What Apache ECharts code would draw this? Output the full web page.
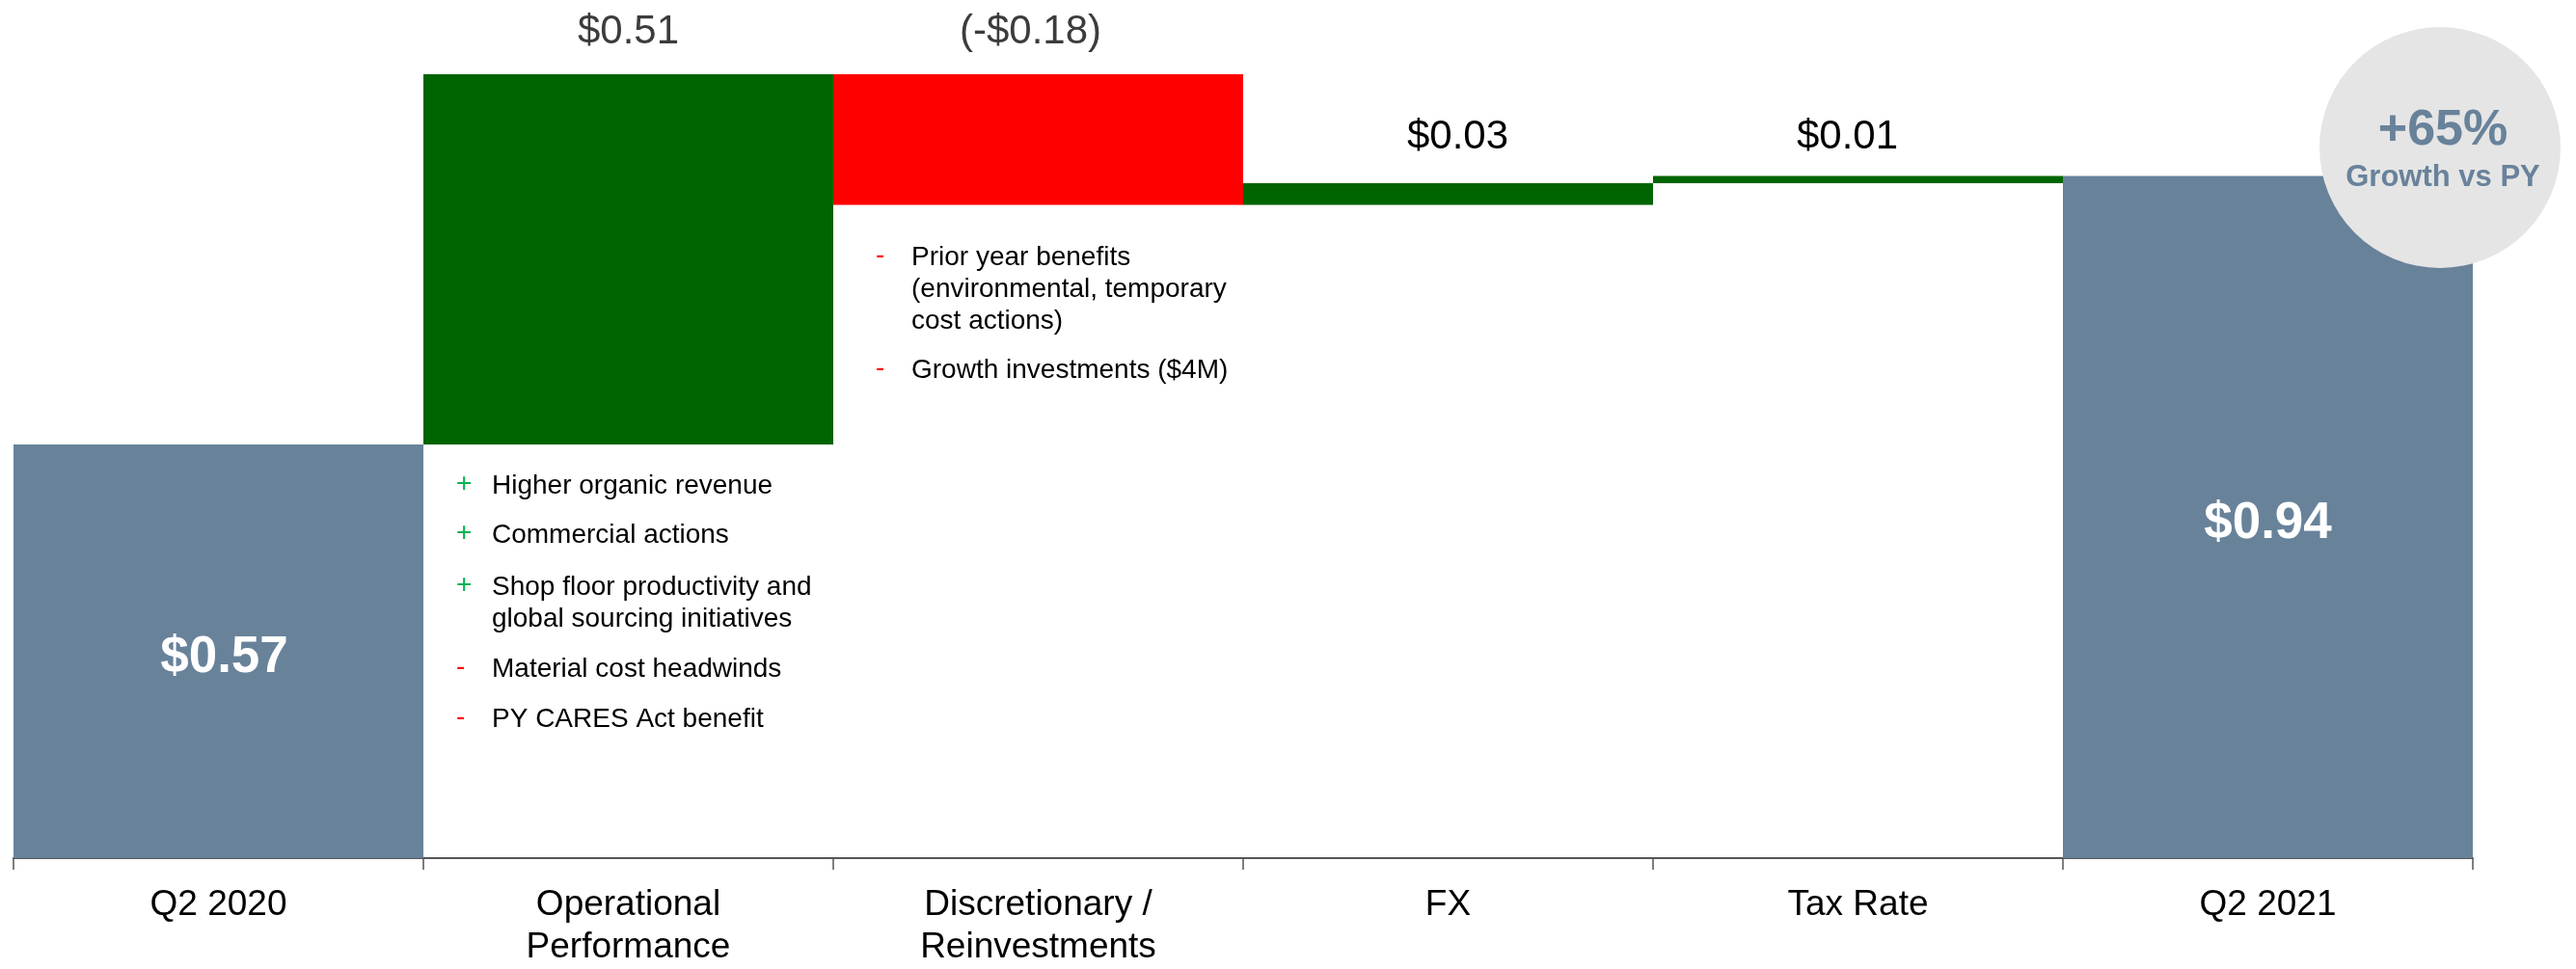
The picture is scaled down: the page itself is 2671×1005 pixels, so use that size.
<!DOCTYPE html>
<html>
<head>
<meta charset="utf-8">
<script src="https://cdn.jsdelivr.net/npm/echarts@6/dist/echarts.min.js"></script>
<style>
html,body{margin:0;padding:0;background:#fff;}
#c{width:2671px;height:1005px;}
</style>
</head>
<body>
<div id="c"></div>
<script>
// ---- data ----
var categories = ['Q2 2020', 'Operational\nPerformance', 'Discretionary /\nReinvestments', 'FX', 'Tax Rate', 'Q2 2021'];
var startValue = 0.57;
var deltas = [0.51, -0.18, 0.03, 0.01];
var endValue = 0.94;
var growthText = '+65%';
var growthSub = 'Growth vs PY';
var opNotes = [
  ['+', 'Higher organic revenue'],
  ['+', 'Commercial actions'],
  ['+', 'Shop floor productivity and\nglobal sourcing initiatives'],
  ['-', 'Material cost headwinds'],
  ['-', 'PY CARES Act benefit']
];
var discNotes = [
  ['-', 'Prior year benefits\n(environmental, temporary\ncost actions)'],
  ['-', 'Growth investments ($4M)']
];

// ---- derived waterfall ----
var baseData = [0];
var valueData = [startValue];
var kinds = ['total'];
var running = startValue;
deltas.forEach(function (d) {
  if (d >= 0) { baseData.push(running); valueData.push(d); kinds.push('up'); }
  else { baseData.push(running + d); valueData.push(-d); kinds.push('down'); }
  running += d;
});
baseData.push(0); valueData.push(endValue); kinds.push('total');

function fmt(v, kind) {
  var s = '$' + Math.abs(v).toFixed(2);
  return kind === 'down' ? '(-' + s + ')' : s;
}

var FONT = '"Liberation Sans", Arial, sans-serif';
var SLATE = '#68829A';
var colorMap = { total: SLATE, up: '#006400', down: '#FF0000' };
var topLabelColor = ['#000', '#3c3c3c', '#3c3c3c', '#000', '#000', '#000'];
var topLabelDist = [0, 23, 23, 27, 19, 0];
var labelOffsetX = [6, 0, -8, 10, -11, 0];

var items = valueData.map(function (v, i) {
  var k = kinds[i];
  var lbl;
  if (k === 'total') {
    lbl = { show: true, position: 'inside', color: '#fff', fontSize: 53, fontWeight: 'bold', fontFamily: FONT,
            offset: [labelOffsetX[i], 7], formatter: fmt(v, k) };
  } else {
    lbl = { show: true, position: 'top', distance: topLabelDist[i], color: topLabelColor[i], fontSize: 42,
            fontFamily: FONT, offset: [labelOffsetX[i], 0], formatter: fmt(v, k) };
  }
  return { value: v, itemStyle: { color: colorMap[k] }, label: lbl };
});

// ---- annotations ----
var graphics = [];
function addNotes(notes, bx, tx, ys) {
  notes.forEach(function (n, i) {
    graphics.push({
      type: 'text', left: bx, top: ys[i] - 14, z: 10,
      style: { text: n[0], fill: n[0] === '+' ? '#00B050' : '#FF0000', font: '28px ' + FONT }
    });
    graphics.push({
      type: 'text', left: tx, top: ys[i] - 14, z: 10,
      style: { text: n[1], fill: '#000', font: '28px ' + FONT, lineHeight: 33 }
    });
  });
}
addNotes(opNotes, 473, 510, [502, 553, 607, 692, 744]);
addNotes(discNotes, 908, 945, [265, 382]);

graphics.push({
  type: 'circle', z: 20, shape: { cx: 2530, cy: 153, r: 125 },
  style: { fill: '#E5E5E5' }
});
graphics.push({
  type: 'text', z: 21, x: 2533, y: 136,
  style: { text: growthText, fill: SLATE, font: 'bold 52px ' + FONT, textAlign: 'center', textVerticalAlign: 'middle' }
});
graphics.push({
  type: 'text', z: 21, x: 2533, y: 184,
  style: { text: growthSub, fill: SLATE, font: 'bold 31px ' + FONT, textAlign: 'center', textVerticalAlign: 'middle' }
});

var chart = echarts.init(document.getElementById('c'));
chart.setOption({
  animation: false,
  backgroundColor: '#fff',
  grid: { left: 14, right: 107, top: 62, bottom: 110, containLabel: false },
  xAxis: {
    type: 'category',
    data: categories,
    axisLine: { show: true, lineStyle: { color: '#555', width: 2 } },
    axisTick: { show: true, length: 12, lineStyle: { color: '#555', width: 1.5 } },
    axisLabel: { color: '#000', fontSize: 37, fontFamily: FONT, lineHeight: 44, margin: 27, interval: 0 }
  },
  yAxis: { type: 'value', min: 0, max: 1.1, show: false, splitLine: { show: false } },
  series: [
    {
      type: 'bar', stack: 'wf', data: baseData, barCategoryGap: '0%', barWidth: '100%',
      itemStyle: { color: 'transparent' }, silent: true
    },
    {
      type: 'bar', stack: 'wf', data: items, barCategoryGap: '0%', barWidth: '100%'
    }
  ],
  graphic: graphics
});
</script>
</body>
</html>
